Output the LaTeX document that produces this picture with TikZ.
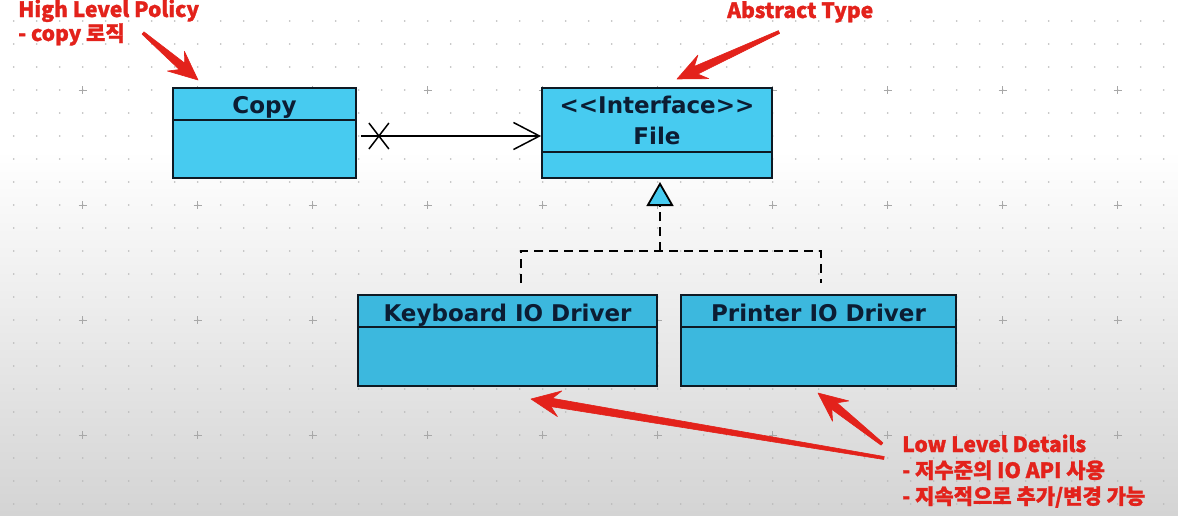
\documentclass[tikz,border=0pt]{standalone}
\usepackage{fontspec}
\usetikzlibrary{arrows.meta,calc}
\newfontfamily\umlfont{DejaVu Sans}
\newfontfamily\annfont{Noto Sans CJK KR}[BoldFeatures={FakeBold=1.3}]
\definecolor{annred}{HTML}{E3221B}
\definecolor{boxtop}{HTML}{47CBF0}
\definecolor{boxbot}{HTML}{3CB8DE}
\definecolor{boxline}{HTML}{0E1A24}
\definecolor{txt}{HTML}{0C1D33}
\definecolor{bgbot}{HTML}{D4D4D4}
\definecolor{dotc}{HTML}{B8B8B8}
\definecolor{plusc}{HTML}{A8A8A8}
\newcommand\redarrow[2]{%
\filldraw[annred, line width=0.6pt, line join=round]
 ($(#1)!1.5pt!90:(#2)$) -- ($(#2)!21pt!(#1)!4.2pt!-90:(#1)$) -- ($(#2)!29pt!(#1)!13pt!-90:(#1)$) -- (#2)
 -- ($(#2)!29pt!(#1)!13pt!90:(#1)$) -- ($(#2)!21pt!(#1)!4.2pt!90:(#1)$) -- ($(#1)!1.5pt!-90:(#2)$) -- cycle;}
\begin{document}
\begin{tikzpicture}[x=1pt,y=-1pt,
  cls/.style={draw=boxline, line width=1.8pt, fill=boxtop, inner sep=0pt},
  divl/.style={draw=boxline, line width=1.8pt},
  ttl/.style={font=\umlfont\bfseries\fontsize{23}{26}\selectfont, text=txt, inner sep=0pt, anchor=base},
  ann/.style={font=\annfont\bfseries\fontsize{21}{24}\selectfont, text=annred, inner sep=0pt, anchor=base west},
  conn/.style={draw=black, line width=1.5pt},
  dashl/.style={draw=black, line width=1.8pt, dash pattern=on 9pt off 6pt}]
\useasboundingbox (0,0) rectangle (1178,515);
\fill[white] (0,0) rectangle (1178,515);
\shade[top color=white, bottom color=bgbot] (0,150) rectangle (1178,515);
% grid
\foreach \i in {0,...,50}{\foreach \j in {0,...,21}{\fill[dotc] ({13.7+23*\i},{21+23*\j}) circle (0.9pt);}}
\foreach \i in {0,...,9}{\foreach \j in {0,...,3}{\draw[plusc, line width=1pt] ({78.7+115*\i},{90+115*\j}) -- ++(8,0) ({82.7+115*\i},{86+115*\j}) -- ++(0,8);}}
% classes
\node[cls, minimum width=183pt, minimum height=90pt] (copy) at (264.5,133) {};
\draw[divl] (173,120) -- (356,120);
\node[ttl] (copyt) at (264.5,113) {Copy};
\node[cls, minimum width=230pt, minimum height=90pt] (file) at (657,133) {};
\draw[divl] (542,152) -- (772,152);
\node[ttl] (filet1) at (657,113) {<\kern0pt<Interface>\kern0pt>};
\node[ttl] (filet2) at (657,144) {File};
\node[cls, fill=boxbot, minimum width=299pt, minimum height=91pt] (kb) at (507.5,340.5) {};
\draw[divl] (358,327) -- (657,327);
\node[ttl] (kbt) at (507.5,321) {Keyboard IO Driver};
\node[cls, fill=boxbot, minimum width=275pt, minimum height=91pt] (pr) at (818.5,340.5) {};
\draw[divl] (681,327) -- (956,327);
\node[ttl] (prt) at (818.5,321) {Printer IO Driver};
% association
\coordinate (xm) at ($(copy.east)+(22,3)$);
\draw[conn, -{Straight Barb[length=26pt,width=27pt]}] ($(copy.east)+(4,3)$) -- ($(file.west)+(0,3)$);
\draw[conn] ($(xm)+(-10,-13)$) -- ($(xm)+(10,13)$) ($(xm)+(-10,13)$) -- ($(xm)+(10,-13)$);
% realization
\coordinate (ftip) at (660,182);
\coordinate (j) at (660,251);
\coordinate (ka) at (521,283);
\coordinate (pa) at (821,283);
\draw[dashl] (ka) |- (j) -| (pa);
\draw[dashl, -{Triangle[length=24pt,width=27pt,fill=boxtop]}] (j) -- (ftip);
% annotations
\node[ann] (hl1) at (18,17) {High Level Policy};
\node[ann] (hl2) at (18,41) {- copy 로직};
\node[ann] (abs) at (727,18) {Abstract Type};
\node[ann] (ll1) at (902,452) {Low Level Details};
\node[ann] (ll2) at (902,478) {- 저수준의 IO API 사용};
\node[ann] (ll3) at (902,504) {- 지속적으로 추가/변경 가능};
\coordinate (a1t) at (143,33); \coordinate (a1h) at (198,80);
\coordinate (a2t) at (779,32); \coordinate (a2h) at (677,79);
\coordinate (a3t) at (884,458); \coordinate (a3h) at (531,399);
\coordinate (a4t) at (882,444); \coordinate (a4h) at (818,393);
\redarrow{a1t}{a1h}
\redarrow{a2t}{a2h}
\redarrow{a3t}{a3h}
\redarrow{a4t}{a4h}
\end{tikzpicture}
\end{document}
